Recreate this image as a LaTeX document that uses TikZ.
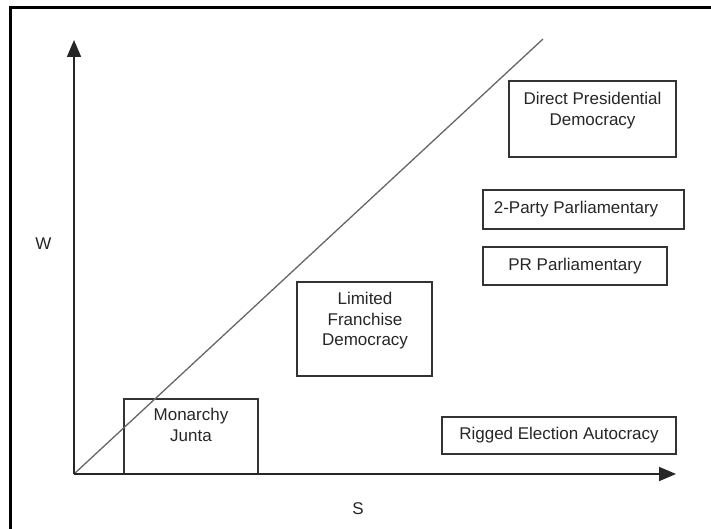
\documentclass[tikz,border=0pt]{standalone}
\usepackage{fontspec}
\setmainfont{Liberation Sans}
\usetikzlibrary{arrows.meta}
\tikzset{
  boxframe/.style={draw=black!80, line width=1.3pt, inner sep=0pt},
  boxtext/.style={anchor=north, align=center, inner sep=0pt, font=\fontsize{17}{20.5}\selectfont, text=black!85},
  axisline/.style={draw=black!85, line width=1.8pt, -{Triangle[length=17pt,width=14pt]}},
  diag/.style={draw=black!60, line width=1.3pt},
  lbl/.style={font=\fontsize{17}{20.5}\selectfont, text=black!85, inner sep=0pt}
}
\begin{document}
\begin{tikzpicture}[x=1pt,y=-1pt]
\useasboundingbox (0,0) rectangle (711,529);
% outer frame (left and top edges)
\draw[line width=3pt] (10,529) -- (10,8) -- (711,8);
% coordinates
\coordinate (O) at (74,474);
\coordinate (Ytip) at (74,40);
\coordinate (Xtip) at (676,474);
\coordinate (Dend) at (543,39);
% boxes
\node[boxframe, minimum width=134pt, minimum height=75pt] (mon) at (191,436.5) {};
\node[boxtext] (montext) at (191,408) {Monarchy\\Junta};
\node[boxframe, minimum width=135pt, minimum height=94pt] (lim) at (364.5,329) {};
\node[boxtext] (limtext) at (365,292) {Limited\\Franchise\\Democracy};
\node[boxframe, minimum width=167pt, minimum height=76pt] (dir) at (592.5,119) {};
\node[boxtext] (dirtext) at (592.5,92) {Direct Presidential\\Democracy};
\node[boxframe, minimum width=201pt, minimum height=39pt] (two) at (583.5,209.5) {};
\node[lbl] (twotext) at (576,209.5) {2-Party Parliamentary};
\node[boxframe, minimum width=184pt, minimum height=38pt] (pr) at (575,266) {};
\node[lbl] (prtext) at (575,266) {PR Parliamentary};
\node[boxframe, minimum width=234pt, minimum height=37pt] (rig) at (559,435.5) {};
\node[lbl] (rigtext) at (559,435.5) {Rigged Election Autocracy};
% diagonal
\draw[diag] (O) -- (Dend);
% axes
\draw[axisline] (O) -- (Ytip);
\draw[axisline] (O) -- (Xtip);
% axis labels
\node[lbl] (W) at (43.5,244) {W};
\node[lbl] (S) at (358,509) {S};
\end{tikzpicture}
\end{document}
